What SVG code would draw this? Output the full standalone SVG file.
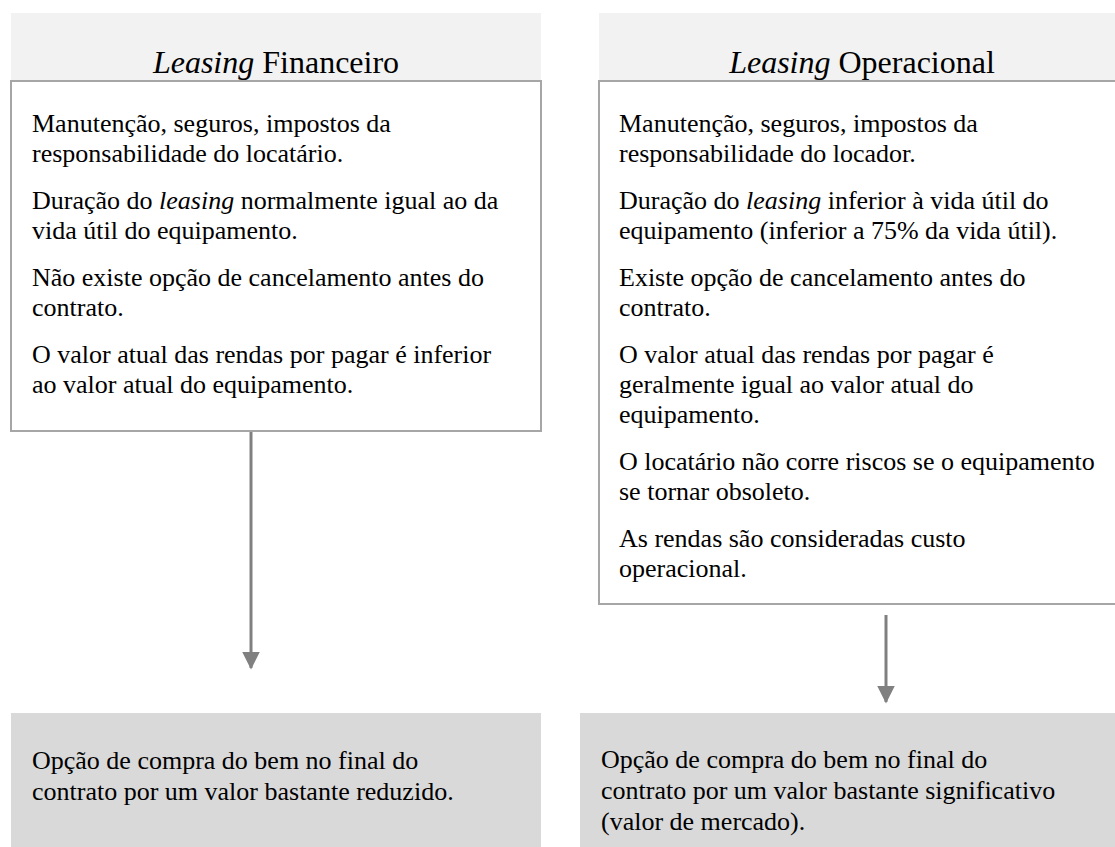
<svg xmlns="http://www.w3.org/2000/svg" width="1115" height="847" viewBox="0 0 1115 847">
<style>
.hdr{fill:#f2f2f2}
.box{fill:#ffffff;stroke:#a6a6a6;stroke-width:2}
.res{fill:#d9d9d9}
text{font-family:"Liberation Serif","Times New Roman",Tinos,"Noto Serif","DejaVu Serif",FreeSerif,serif}
.t{font-size:26px;fill:#000000}
.h{font-size:32px;fill:#000000;text-anchor:middle}
.i{font-style:italic}
.c{stroke:#808080;stroke-width:3;fill:none}
</style>
<defs>
<marker id="ah" markerWidth="6" markerHeight="6" refX="5.5" refY="3" orient="auto" markerUnits="strokeWidth">
<path d="M0,0 L6,3 L0,6 Z" fill="#808080"/>
</marker>
</defs>
<rect width="1115" height="847" fill="#ffffff"/>
<g id="financeiro">
<rect class="hdr" x="11" y="13" width="530" height="68"/>
<text class="h" x="276" y="73"><tspan class="i">Leasing</tspan> Financeiro</text>
<rect class="box" x="11" y="81" width="530" height="350"/>
<text class="t" x="32" y="132">Manutenção, seguros, impostos da</text>
<text class="t" x="32" y="162">responsabilidade do locatário.</text>
<text class="t" x="32" y="209">Duração do <tspan class="i">leasing</tspan> normalmente igual ao da</text>
<text class="t" x="32" y="239">vida útil do equipamento.</text>
<text class="t" x="32" y="286">Não existe opção de cancelamento antes do</text>
<text class="t" x="32" y="316">contrato.</text>
<text class="t" x="32" y="363">O valor atual das rendas por pagar é inferior</text>
<text class="t" x="32" y="393">ao valor atual do equipamento.</text>
</g>
<g id="operacional">
<rect class="hdr" x="599" y="13" width="530" height="68"/>
<text class="h" x="862" y="73"><tspan class="i">Leasing</tspan> Operacional</text>
<rect class="box" x="599" y="81" width="530" height="523"/>
<text class="t" x="619" y="132">Manutenção, seguros, impostos da</text>
<text class="t" x="619" y="162">responsabilidade do locador.</text>
<text class="t" x="619" y="209">Duração do <tspan class="i">leasing</tspan> inferior à vida útil do</text>
<text class="t" x="619" y="239">equipamento (inferior a 75% da vida útil).</text>
<text class="t" x="619" y="286">Existe opção de cancelamento antes do</text>
<text class="t" x="619" y="316">contrato.</text>
<text class="t" x="619" y="363">O valor atual das rendas por pagar é</text>
<text class="t" x="619" y="393">geralmente igual ao valor atual do</text>
<text class="t" x="619" y="423">equipamento.</text>
<text class="t" x="619" y="470">O locatário não corre riscos se o equipamento</text>
<text class="t" x="619" y="500">se tornar obsoleto.</text>
<text class="t" x="619" y="547">As rendas são consideradas custo</text>
<text class="t" x="619" y="577">operacional.</text>
</g>
<g id="resultado-financeiro">
<rect class="res" x="11" y="713" width="530" height="140"/>
<text class="t" x="32" y="769">Opção de compra do bem no final do</text>
<text class="t" x="32" y="800">contrato por um valor bastante reduzido.</text>
</g>
<g id="resultado-operacional">
<rect class="res" x="580" y="713" width="545" height="140"/>
<text class="t" x="601" y="768">Opção de compra do bem no final do</text>
<text class="t" x="601" y="799">contrato por um valor bastante significativo</text>
<text class="t" x="601" y="830">(valor de mercado).</text>
</g>
<g id="connectors">
<path class="c" d="M251,432 L251,668" marker-end="url(#ah)"/>
<path class="c" d="M886,615 L886,702" marker-end="url(#ah)"/>
</g>
</svg>
